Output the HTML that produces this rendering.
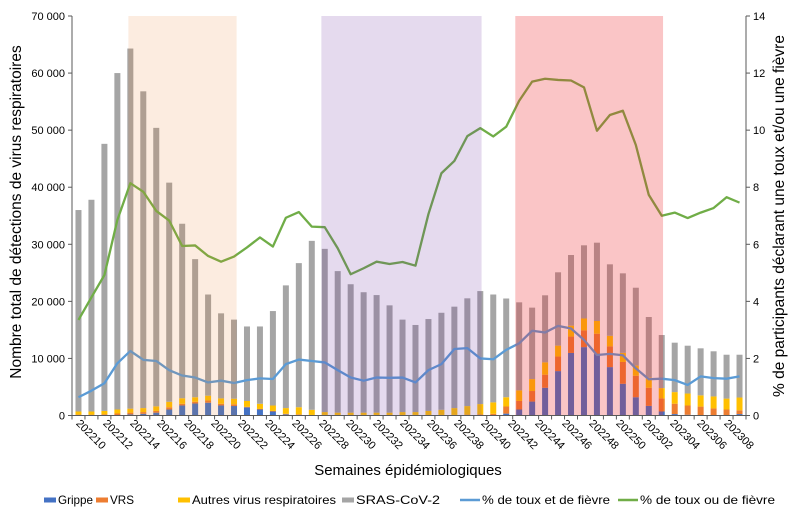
<!DOCTYPE html>
<html><head><meta charset="utf-8">
<style>
html,body{margin:0;padding:0;background:#fff;}
svg{display:block;font-family:"Liberation Sans",sans-serif;}
</style></head>
<body>
<svg id="chart" width="792" height="516" viewBox="0 0 792 516" xmlns="http://www.w3.org/2000/svg"></svg>
<script>
const categories=[];
for(let w=10;w<=52;w++)categories.push('2022'+String(w).padStart(2,'0'));
for(let w=1;w<=9;w++)categories.push('2023'+String(w).padStart(2,'0'));
const tickLabels=['202210','202212','202214','202216','202218','202220','202222','202224','202226','202228','202230','202232','202234','202236','202238','202240','202242','202244','202246','202248','202250','202302','202304','202306','202308'];
const fluValues=[0,0,0,50,200,300,500,1050,1750,2100,2240,1750,1660,1430,1050,700,200,100,0,0,0,0,0,0,0,0,0,0,0,0,0,0,0,330,1050,2440,4860,7780,10960,11980,10770,8480,5560,3200,1680,700,250,130,50,50,50,250];
const rsvValues=[150,150,200,300,300,300,300,400,300,300,400,300,300,100,100,100,100,100,100,100,100,100,100,100,100,100,100,100,100,100,150,200,300,1250,1500,1850,2290,2550,2870,2930,3560,3630,3820,3760,3180,2300,1820,1620,1510,1190,1000,670];
const otherValues=[550,550,600,700,700,700,800,950,970,800,830,950,980,1010,900,950,1000,1250,900,500,400,400,400,400,400,500,500,700,900,1200,1500,1800,2000,1620,1850,2090,2160,1910,1910,2090,2230,1850,1590,1780,1780,1800,2030,2100,1970,2100,1910,2230];
const totalValues=[36000,37800,47600,60000,64300,56800,50400,40800,33600,27400,21200,17900,16800,15600,15600,18300,22800,26700,30600,29200,25300,23000,21600,21100,19300,16800,15860,16900,18000,19070,20530,21800,21200,20500,19830,18900,21060,25090,28120,29820,30280,26490,24910,22390,17260,14100,12760,12230,11770,11250,10650,10650];
const coughAndFever=[0.64,0.87,1.13,1.83,2.26,1.95,1.91,1.59,1.40,1.33,1.16,1.22,1.14,1.24,1.30,1.28,1.80,1.96,1.91,1.86,1.59,1.33,1.22,1.33,1.32,1.33,1.16,1.59,1.80,2.33,2.36,2.00,1.97,2.30,2.53,2.97,2.91,3.14,3.05,2.65,2.12,2.16,2.11,1.65,1.27,1.29,1.24,1.07,1.37,1.31,1.29,1.37];
const coughOrFever=[3.35,4.14,4.92,6.85,8.14,7.84,7.17,6.83,5.94,5.96,5.59,5.39,5.57,5.89,6.24,5.92,6.93,7.13,6.62,6.60,5.86,4.95,5.16,5.39,5.31,5.38,5.25,7.06,8.49,8.92,9.79,10.07,9.78,10.12,11.03,11.70,11.80,11.76,11.74,11.50,9.98,10.53,10.68,9.48,7.73,7.00,7.11,6.92,7.11,7.27,7.65,7.46];
const periodStart=[4.35,19.24,34.2];
const periodEnd=[12.7,31.6,45.6];
const periodColors=['rgba(237,125,49,0.15)','rgba(112,48,160,0.18)','rgba(237,40,45,0.27)'];
const leftTicks=[0,10000,20000,30000,40000,50000,60000,70000];
const rightTicks=[0,2,4,6,8,10,12,14];

const NS='http://www.w3.org/2000/svg';
const svg=document.getElementById('chart');
const L=72,R=746,T=16,B=415.5;
const band=(R-L)/categories.length;
const xc=i=>L+band*(i+0.5);
const yL=v=>B-v/70000*(B-T);
const yR=v=>B-v/14*(B-T);
function mk(tag,attrs,parent){const e=document.createElementNS(NS,tag);for(const k in attrs)e.setAttribute(k,attrs[k]);(parent||svg).appendChild(e);return e;}

const gBars=mk('g',{});


const bw=6;
categories.forEach((c,i)=>{
  const f=fluValues[i],r=rsvValues[i],o=otherValues[i],t=totalValues[i];
  const segs=[[0,f,'#4472C4','flu'],[f,f+r,'#ED7D31','rsv'],[f+r,f+r+o,'#FFC000','other'],[f+r+o,t,'#A5A5A5','sars']];
  segs.forEach(s=>{
    if(s[1]<=s[0])return;
    const rc=mk('rect',{x:xc(i)-bw/2,y:yL(s[1]),width:bw,height:yL(s[0])-yL(s[1]),fill:s[2]},gBars);
    
    
  });
});
function line(vals,color,name){
  const p=mk('polyline',{points:vals.map((v,i)=>xc(i)+','+yR(v)).join(' '),fill:'none',stroke:color,'stroke-width':2.3,'stroke-linejoin':'round'});
  
  
}
line(coughAndFever,'#5B9BD5','line-cough-and-fever');
line(coughOrFever,'#70AD47','line-cough-or-fever');

periodStart.forEach((s,k)=>{
  const r=mk('rect',{x:L+band*s,y:T,width:band*(periodEnd[k]-s),height:B-T,fill:periodColors[k]});
  
  
});

const ax=mk('g',{stroke:'#595959','stroke-width':1});


mk('line',{x1:L,y1:T,x2:L,y2:B},ax);
mk('line',{x1:R,y1:T,x2:R,y2:B},ax);
mk('line',{x1:L,y1:B,x2:R,y2:B},ax);
for(let i=0;i<=categories.length;i++)mk('line',{x1:L+band*i,y1:B,x2:L+band*i,y2:B+4},ax);
leftTicks.forEach(v=>{
  mk('line',{x1:L-4,y1:yL(v),x2:L,y2:yL(v)},ax);
  const t=mk('text',{x:L-7,y:yL(v)+4,'text-anchor':'end','font-size':11,fill:'#000'});
  t.textContent=v===0?'0':(v/1000)+' 000';
  
  
});
rightTicks.forEach(v=>{
  mk('line',{x1:R,y1:yR(v),x2:R+4,y2:yR(v)},ax);
  const t=mk('text',{x:R+7,y:yR(v)+4,'font-size':11,fill:'#000'});
  t.textContent=v;
  
  
});
const step=(categories.length-2)/(tickLabels.length-1);
tickLabels.forEach((lb,j)=>{
  const x=xc(j*step)-3,y=424;
  const t=mk('text',{x:x,y:y,'font-size':11,fill:'#000',transform:'rotate(45 '+x+' '+y+')'});
  t.textContent=lb;
  
  
});
function txt(s,attrs,name){const t=mk('text',attrs);t.textContent=s;return t;}
txt('Nombre total de détections de virus respiratoires',{x:0,y:0,'font-size':15.5,'text-anchor':'middle',transform:'translate(21 212) rotate(-90)'},'y-axis-left-title');
txt('% de participants déclarant une toux et/ou une fièvre',{x:0,y:0,'font-size':15.5,'text-anchor':'middle',transform:'translate(784 216) rotate(-90)'},'y-axis-right-title');
txt('Semaines épidémiologiques',{x:408,y:475,'font-size':15,'text-anchor':'middle'},'x-axis-title');

const legend=[['Grippe',58,'#4472C4',5,35],['VRS',110,'#ED7D31',5,24],['Autres virus respiratoires',192,'#FFC000',5,144],['SRAS-CoV-2',356,'#A5A5A5',5,84],['% de toux et de fièvre',482,'#5B9BD5',2.5,128],['% de toux ou de fièvre',640,'#70AD47',2.5,135]];
legend.forEach(l=>{
  const g=mk('g',{});
  
  
  const w=l[3]>3?12:20;
  mk('rect',{x:l[1]-w-2,y:500-l[3]/2,width:w,height:l[3],fill:l[2]},g);
  const t=mk('text',{x:l[1],y:504,'font-size':12,fill:'#000',textLength:l[4],lengthAdjust:'spacingAndGlyphs'},g);
  t.textContent=l[0];
});
</script>
</body></html>
